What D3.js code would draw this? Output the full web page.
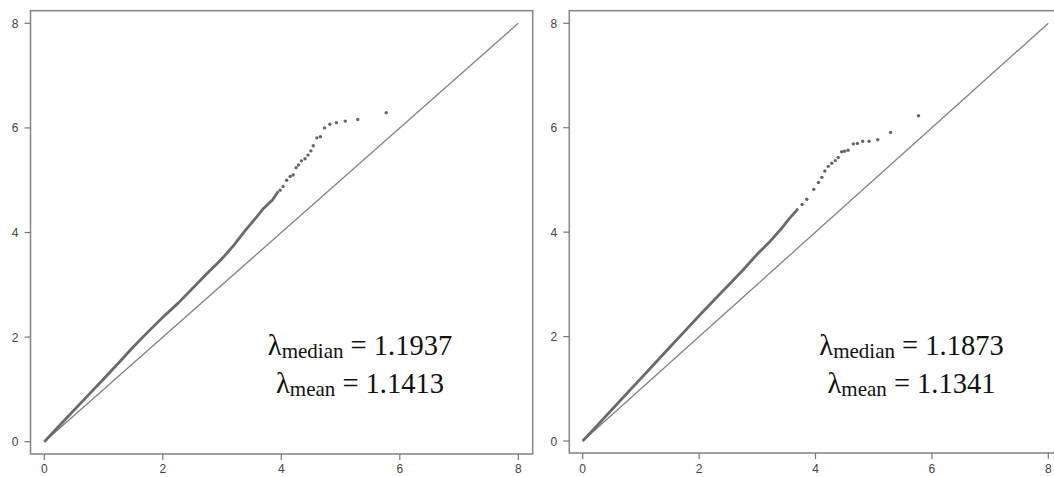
<!DOCTYPE html>
<html lang="en">
  <head>
    <meta charset="UTF-8" />
    <title>qq-plots</title>
    <style>
      body {
        margin: 0;
        background: #fff;
      }
      svg {
        display: block;
      }
      .frame {
        fill: none;
        stroke: #8a8a8a;
        stroke-width: 1.6;
      }
      .tick-line {
        stroke: #777;
        stroke-width: 1.2;
      }
      .tick-label {
        font-family: "Liberation Sans", Helvetica, sans-serif;
        font-size: 12px;
        fill: #444;
      }
      .diag {
        stroke: #808080;
        stroke-width: 1.3;
      }
      .dense {
        fill: none;
        stroke: #6a6a6a;
        stroke-width: 2.8;
        stroke-linejoin: round;
      }
      .pt {
        fill: #666;
      }
      .lambda {
        font-family: "Liberation Serif", "Times New Roman", serif;
        font-size: 28.5px;
        fill: #111;
        text-anchor: middle;
      }
    </style>
  </head>
  <body>
    <script src="https://cdn.jsdelivr.net/npm/d3@7"></script>
    <script>
      const ticks = [0, 2, 4, 6, 8];

      // left plot: dense part of the curve, then the sparse tail points
      const leftExpected = [0, 0.25, 0.5, 0.75, 1.0, 1.25, 1.5, 1.75, 2.0, 2.25, 2.5, 2.75, 3.0, 3.2, 3.4, 3.55, 3.7, 3.85, 3.95];
      const leftObserved = [0, 0.3, 0.6, 0.9, 1.2, 1.5, 1.81, 2.1, 2.38, 2.64, 2.93, 3.22, 3.5, 3.76, 4.05, 4.25, 4.46, 4.62, 4.79];
      const leftTailExpected = [3.98, 4.03, 4.09, 4.15, 4.2, 4.25, 4.29, 4.34, 4.4, 4.45, 4.5, 4.54, 4.6, 4.66, 4.73, 4.82, 4.93, 5.08, 5.29, 5.77];
      const leftTailObserved = [4.81, 4.88, 5.0, 5.07, 5.1, 5.24, 5.29, 5.37, 5.41, 5.48, 5.56, 5.66, 5.81, 5.83, 6.0, 6.07, 6.1, 6.13, 6.16, 6.29];

      // right plot
      const rightExpected = [0, 0.25, 0.5, 0.75, 1.0, 1.25, 1.5, 1.75, 2.0, 2.25, 2.5, 2.75, 3.0, 3.2, 3.4, 3.55, 3.7];
      const rightObserved = [0, 0.3, 0.6, 0.9, 1.2, 1.5, 1.8, 2.1, 2.4, 2.69, 2.98, 3.27, 3.58, 3.8, 4.05, 4.26, 4.45];
      const rightTailExpected = [3.77, 3.85, 3.97, 4.05, 4.11, 4.16, 4.22, 4.28, 4.34, 4.39, 4.45, 4.5, 4.56, 4.65, 4.72, 4.81, 4.92, 5.07, 5.29, 5.77];
      const rightTailObserved = [4.53, 4.63, 4.82, 4.95, 5.05, 5.17, 5.26, 5.32, 5.37, 5.43, 5.54, 5.55, 5.57, 5.69, 5.7, 5.74, 5.74, 5.77, 5.91, 6.23];

      const lambdaMedian = ["1.1937", "1.1873"];
      const lambdaMean = ["1.1413", "1.1341"];

      const svg = d3.select("body").append("svg").attr("width", 1054).attr("height", 477);

      const panels = [
        { x0: 44.3, x8: 518.3, y0: 441.7, y8: 23.3, box: [30.5, 10.7, 532.7, 454], textX: 360,
          exp: leftExpected, obs: leftObserved, tExp: leftTailExpected, tObs: leftTailObserved, i: 0 },
        { x0: 582.7, x8: 1048.3, y0: 441, y8: 23.3, box: [569.3, 10.7, 1062, 453], textX: 911.5,
          exp: rightExpected, obs: rightObserved, tExp: rightTailExpected, tObs: rightTailObserved, i: 1 }
      ];

      panels.forEach(p => {
        const x = d3.scaleLinear().domain([0, 8]).range([p.x0, p.x8]);
        const y = d3.scaleLinear().domain([0, 8]).range([p.y0, p.y8]);
        const g = svg.append("g");
        const [bx1, by1, bx2, by2] = p.box;

        g.append("rect")
          .attr("class", "frame")
          .attr("x", bx1)
          .attr("y", by1)
          .attr("width", bx2 - bx1)
          .attr("height", by2 - by1);

        // y ticks
        g.selectAll(".ytick")
          .data(ticks)
          .enter()
          .append("line")
          .attr("class", "tick-line")
          .attr("x1", bx1 - 6)
          .attr("x2", bx1)
          .attr("y1", d => y(d))
          .attr("y2", d => y(d));
        g.selectAll(".ylab")
          .data(ticks)
          .enter()
          .append("text")
          .attr("class", "tick-label")
          .attr("x", bx1 - 12)
          .attr("y", d => y(d) + 4.5)
          .attr("text-anchor", "end")
          .text(d => d);

        // x ticks
        g.selectAll(".xtick")
          .data(ticks)
          .enter()
          .append("line")
          .attr("class", "tick-line")
          .attr("x1", d => x(d))
          .attr("x2", d => x(d))
          .attr("y1", by2)
          .attr("y2", by2 + 6);
        g.selectAll(".xlab")
          .data(ticks)
          .enter()
          .append("text")
          .attr("class", "tick-label")
          .attr("x", d => x(d))
          .attr("y", 473)
          .attr("text-anchor", "middle")
          .text(d => d);

        // y = x reference line
        g.append("line")
          .attr("class", "diag")
          .attr("x1", x(0))
          .attr("y1", y(0))
          .attr("x2", x(8))
          .attr("y2", y(8));

        const dense = p.exp.map((d, k) => [d, p.obs[k]]);
        g.append("path")
          .attr("class", "dense")
          .attr("d", d3.line().x(d => x(d[0])).y(d => y(d[1]))(dense));

        const tail = p.tExp.map((d, k) => [d, p.tObs[k]]);
        g.selectAll(".pt")
          .data(tail)
          .enter()
          .append("circle")
          .attr("class", "pt")
          .attr("cx", d => x(d[0]))
          .attr("cy", d => y(d[1]))
          .attr("r", 1.7);

        const t1 = g.append("text").attr("class", "lambda").attr("x", p.textX).attr("y", 355);
        t1.append("tspan").text("λ");
        t1.append("tspan").attr("font-size", "21px").attr("dy", 3).text("median");
        t1.append("tspan").attr("dy", -3).text(" = " + lambdaMedian[p.i]);

        const t2 = g.append("text").attr("class", "lambda").attr("x", p.textX).attr("y", 393);
        t2.append("tspan").text("λ");
        t2.append("tspan").attr("font-size", "21px").attr("dy", 3).text("mean");
        t2.append("tspan").attr("dy", -3).text(" = " + lambdaMean[p.i]);
      });
    </script>
  </body>
</html>
